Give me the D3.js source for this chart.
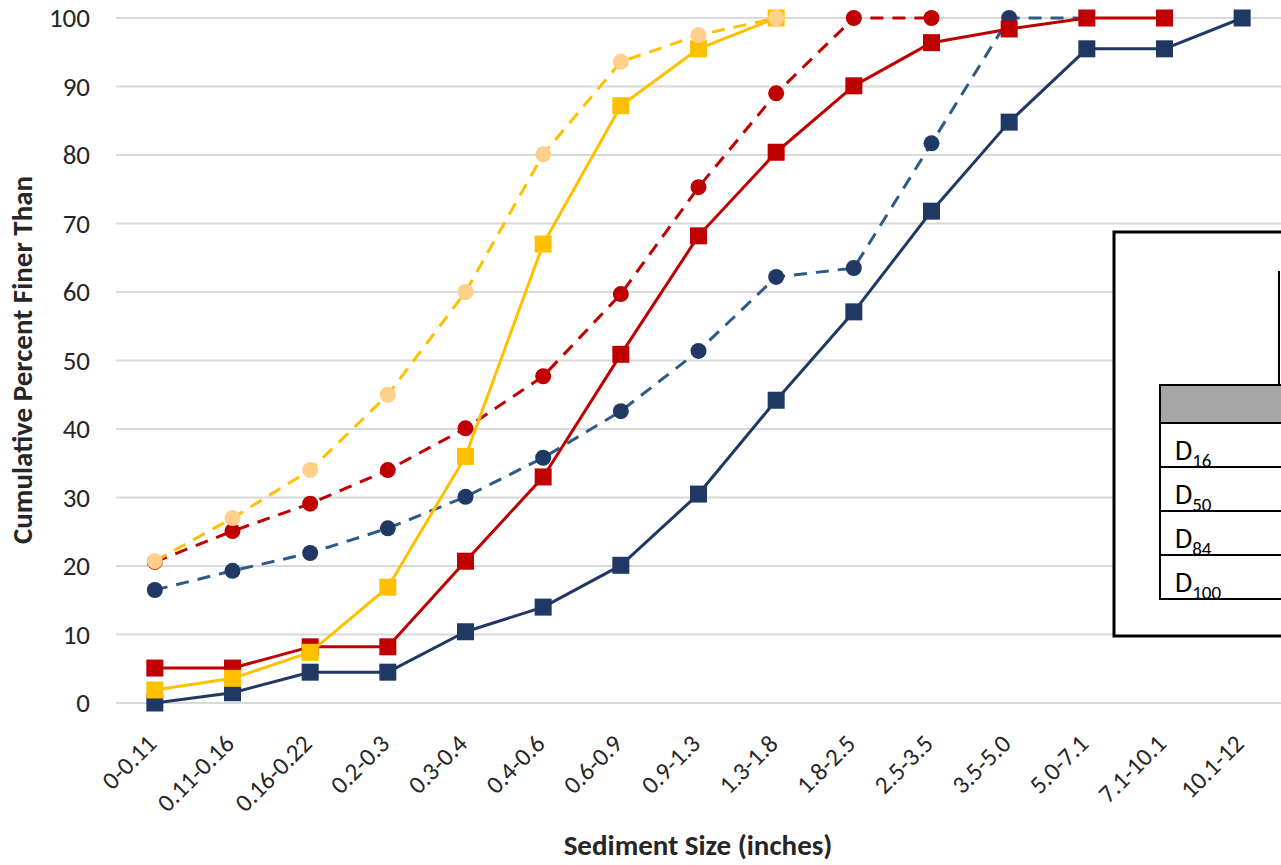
<!DOCTYPE html>
<html>
<head>
<meta charset="utf-8">
<script src="https://cdn.jsdelivr.net/npm/d3@7/dist/d3.min.js"></script>
<style>
  html, body { margin: 0; padding: 0; background: #fff; overflow: hidden; }
  svg { display: block; font-family: Carlito, Calibri, Lato, "Open Sans", sans-serif; }
</style>
</head>
<body>
<svg id="chart" width="1281" height="865"></svg>
<script>
// Sediment size classes (inches)
const sizeClasses = ["0-0.11", "0.11-0.16", "0.16-0.22", "0.2-0.3", "0.3-0.4", "0.4-0.6",
  "0.6-0.9", "0.9-1.3", "1.3-1.8", "1.8-2.5", "2.5-3.5", "3.5-5.0", "5.0-7.1", "7.1-10.1", "10.1-12"];

// Cumulative percent finer than, per sample
const navySolid  = [0, 1.5, 4.5, 4.5, 10.4, 14.0, 20.1, 30.5, 44.2, 57.1, 71.8, 84.8, 95.5, 95.5, 100];
const navyDashed = [16.5, 19.3, 21.9, 25.5, 30.1, 35.8, 42.6, 51.4, 62.2, 63.5, 81.7, 100, 100];
const redSolid   = [5.1, 5.1, 8.2, 8.2, 20.7, 33.0, 50.9, 68.2, 80.4, 90.1, 96.4, 98.4, 100, 100];
const redDashed  = [20.6, 25.1, 29.1, 34.0, 40.1, 47.7, 59.7, 75.3, 89.0, 100, 100];
const goldSolid  = [1.9, 3.6, 7.4, 16.9, 36.0, 67.0, 87.2, 95.5, 100];
const lightDashed = [20.7, 27.0, 34.0, 45.0, 60.0, 80.1, 93.6, 97.5, 100];

const yTicks = [0, 10, 20, 30, 40, 50, 60, 70, 80, 90, 100];
const tableRows = ["16", "50", "84", "100"];

const series = [
  { values: navySolid,   line: "#203864", marker: "#203864", dashed: false, shape: "square" },
  { values: navyDashed,  line: "#2d5b86", marker: "#203864", dashed: true,  shape: "circle" },
  { values: redSolid,    line: "#c00000", marker: "#c00000", dashed: false, shape: "square" },
  { values: redDashed,   line: "#c00000", marker: "#c00000", dashed: true,  shape: "circle" },
  { values: goldSolid,   line: "#ffc000", marker: "#ffc000", dashed: false, shape: "square" },
  { values: lightDashed, line: "#ffc000", marker: "#ffd08a", dashed: true,  shape: "circle" }
];

const FONT = "Carlito, Calibri, Lato, 'Open Sans', sans-serif";
const svg = d3.select("#chart");
const margin = { left: 116, right: 0, top: 18, bottom: 162 };
const W = 1281, H = 865;

const x = d3.scaleBand().domain(sizeClasses).range([margin.left, W - margin.right]);
const cx = c => x(c) + x.bandwidth() / 2;
const y = d3.scaleLinear().domain([0, 100]).range([H - margin.bottom, margin.top]);

// Gridlines
svg.append("g")
  .selectAll("line").data(yTicks).join("line")
  .attr("x1", margin.left).attr("x2", W)
  .attr("y1", d => y(d)).attr("y2", d => y(d))
  .attr("stroke", "#d9d9d9").attr("stroke-width", 2);

// Y axis labels
const yAxis = svg.append("g")
  .attr("transform", `translate(${margin.left - 26},0)`)
  .call(d3.axisLeft(y).tickValues(yTicks).tickSize(0).tickPadding(0));
yAxis.select(".domain").remove();
yAxis.selectAll("text")
  .attr("font-family", FONT)
  .attr("font-size", 27).attr("fill", "#262626");

// X axis labels (rotated)
const xAxis = svg.append("g")
  .attr("transform", `translate(0,${y(0) + 36})`)
  .call(d3.axisBottom(x).tickSize(0).tickPadding(0));
xAxis.select(".domain").remove();
xAxis.selectAll("text")
  .attr("font-family", FONT)
  .attr("font-size", 25).attr("fill", "#262626")
  .attr("text-anchor", "end")
  .attr("dy", "0.35em")
  .attr("transform", "translate(-3,0) rotate(-45)");

// Axis titles
svg.append("text")
  .attr("x", 698).attr("y", 855)
  .attr("text-anchor", "middle")
  .attr("font-family", FONT)
  .attr("font-size", 29).attr("font-weight", "bold").attr("fill", "#262626")
  .text("Sediment Size (inches)");
svg.append("text")
  .attr("transform", `translate(32,360) rotate(-90)`)
  .attr("text-anchor", "middle")
  .attr("font-family", FONT)
  .attr("font-size", 29).attr("font-weight", "bold").attr("fill", "#262626")
  .text("Cumulative Percent Finer Than");

// Series lines and markers
const lineGen = d3.line().x((d, i) => cx(sizeClasses[i])).y(d => y(d));
series.forEach(s => {
  const g = svg.append("g");
  g.append("path")
    .attr("d", lineGen(s.values))
    .attr("fill", "none")
    .attr("stroke", s.line)
    .attr("stroke-width", 3)
    .attr("stroke-linejoin", "round")
    .attr("stroke-dasharray", s.dashed ? "13,9" : null);
  const pts = s.values.map((v, i) => ({ c: sizeClasses[i], v }));
  if (s.shape === "square") {
    g.selectAll("rect").data(pts).join("rect")
      .attr("x", d => cx(d.c) - 8.5).attr("y", d => y(d.v) - 8.5)
      .attr("width", 17).attr("height", 17)
      .attr("fill", s.marker);
  } else {
    g.selectAll("circle").data(pts).join("circle")
      .attr("cx", d => cx(d.c)).attr("cy", d => y(d.v))
      .attr("r", 8)
      .attr("fill", s.marker);
  }
});

// Summary table box
const tbl = svg.append("g");
tbl.append("rect")
  .attr("x", 1114).attr("y", 232).attr("width", 200).attr("height", 404)
  .attr("fill", "#fff").attr("stroke", "#000").attr("stroke-width", 3);
tbl.append("line")
  .attr("x1", 1279).attr("x2", 1279).attr("y1", 271).attr("y2", 600)
  .attr("stroke", "#000").attr("stroke-width", 2);
tbl.append("rect")
  .attr("x", 1160).attr("y", 385).attr("width", 150).attr("height", 38)
  .attr("fill", "#a6a6a6").attr("stroke", "#000").attr("stroke-width", 2);
const rowH = 44;
tableRows.forEach((r, i) => {
  const top = 423 + i * rowH;
  tbl.append("rect")
    .attr("x", 1160).attr("y", top).attr("width", 150).attr("height", rowH)
    .attr("fill", "#fff").attr("stroke", "#000").attr("stroke-width", 2);
  const t = tbl.append("text")
    .attr("x", 1175).attr("y", top + 37)
    .attr("font-family", FONT)
    .attr("font-size", 28).attr("fill", "#000");
  t.append("tspan").text("D");
  t.append("tspan").attr("font-size", 19).attr("dy", 7).text(r);
});
</script>
</body>
</html>
